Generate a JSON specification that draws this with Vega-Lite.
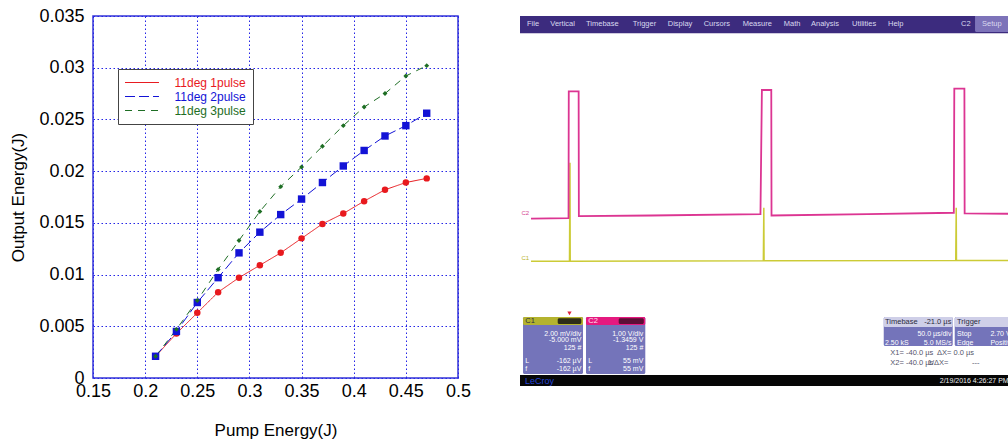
{
  "$schema": "https://vega.github.io/schema/vega-lite/v6.json",
  "padding": {"left": 9, "top": 6, "right": 0, "bottom": 0},
  "spacing": 48,
  "config": {
    "font": "Liberation Sans",
    "axis": {
      "labelFont": "Liberation Sans",
      "titleFont": "Liberation Sans",
      "domain": false,
      "ticks": false,
      "tickSize": 0,
      "grid": true,
      "gridColor": "#2424e6",
      "gridDash": [1.5, 2.5],
      "gridWidth": 1,
      "labelFontSize": 18,
      "labelColor": "#000000",
      "titleFontSize": 17,
      "titleFontWeight": "normal",
      "titleColor": "#000000"
    }
  },
  "datasets": {
    "energy": [
      {"pump": 0.21, "out": 0.0021, "series": "11deg 1pulse"},
      {"pump": 0.23, "out": 0.0043, "series": "11deg 1pulse"},
      {"pump": 0.25, "out": 0.0063, "series": "11deg 1pulse"},
      {"pump": 0.27, "out": 0.0083, "series": "11deg 1pulse"},
      {"pump": 0.29, "out": 0.0097, "series": "11deg 1pulse"},
      {"pump": 0.31, "out": 0.0109, "series": "11deg 1pulse"},
      {"pump": 0.33, "out": 0.0121, "series": "11deg 1pulse"},
      {"pump": 0.35, "out": 0.0135, "series": "11deg 1pulse"},
      {"pump": 0.37, "out": 0.0149, "series": "11deg 1pulse"},
      {"pump": 0.39, "out": 0.0159, "series": "11deg 1pulse"},
      {"pump": 0.41, "out": 0.0171, "series": "11deg 1pulse"},
      {"pump": 0.43, "out": 0.0182, "series": "11deg 1pulse"},
      {"pump": 0.45, "out": 0.0189, "series": "11deg 1pulse"},
      {"pump": 0.47, "out": 0.0193, "series": "11deg 1pulse"},
      {"pump": 0.21, "out": 0.0021, "series": "11deg 2pulse"},
      {"pump": 0.23, "out": 0.0045, "series": "11deg 2pulse"},
      {"pump": 0.25, "out": 0.0073, "series": "11deg 2pulse"},
      {"pump": 0.27, "out": 0.0097, "series": "11deg 2pulse"},
      {"pump": 0.29, "out": 0.0121, "series": "11deg 2pulse"},
      {"pump": 0.31, "out": 0.0141, "series": "11deg 2pulse"},
      {"pump": 0.33, "out": 0.0158, "series": "11deg 2pulse"},
      {"pump": 0.35, "out": 0.0173, "series": "11deg 2pulse"},
      {"pump": 0.37, "out": 0.0189, "series": "11deg 2pulse"},
      {"pump": 0.39, "out": 0.0205, "series": "11deg 2pulse"},
      {"pump": 0.41, "out": 0.0220, "series": "11deg 2pulse"},
      {"pump": 0.43, "out": 0.0234, "series": "11deg 2pulse"},
      {"pump": 0.45, "out": 0.0244, "series": "11deg 2pulse"},
      {"pump": 0.47, "out": 0.0256, "series": "11deg 2pulse"},
      {"pump": 0.21, "out": 0.0021, "series": "11deg 3pulse"},
      {"pump": 0.23, "out": 0.0047, "series": "11deg 3pulse"},
      {"pump": 0.25, "out": 0.0075, "series": "11deg 3pulse"},
      {"pump": 0.27, "out": 0.0105, "series": "11deg 3pulse"},
      {"pump": 0.29, "out": 0.0133, "series": "11deg 3pulse"},
      {"pump": 0.31, "out": 0.0161, "series": "11deg 3pulse"},
      {"pump": 0.33, "out": 0.0185, "series": "11deg 3pulse"},
      {"pump": 0.35, "out": 0.0204, "series": "11deg 3pulse"},
      {"pump": 0.37, "out": 0.0224, "series": "11deg 3pulse"},
      {"pump": 0.39, "out": 0.0244, "series": "11deg 3pulse"},
      {"pump": 0.41, "out": 0.0262, "series": "11deg 3pulse"},
      {"pump": 0.43, "out": 0.0275, "series": "11deg 3pulse"},
      {"pump": 0.45, "out": 0.0292, "series": "11deg 3pulse"},
      {"pump": 0.47, "out": 0.0302, "series": "11deg 3pulse"}
    ],
    "boxes": [
      {"x": -0.3, "x2": 10.1, "y": 8.123, "y2": 8.748, "part": "bar"},
      {"x": 9.231, "x2": 10.1, "y": 8.16, "y2": 8.72, "part": "setup"},
      {"x": -0.3, "x2": 10.1, "y": -1.897, "y2": -2.3, "part": "status"},
      {"x": -0.166, "x2": 1.081, "y": -0.196, "y2": -1.868, "part": "body"},
      {"x": -0.166, "x2": 1.081, "y": -0.196, "y2": -0.431, "part": "c1head"},
      {"x": 0.555, "x2": 1.046, "y": -0.23, "y2": -0.40, "part": "c1dark"},
      {"x": 1.143, "x2": 2.376, "y": -0.196, "y2": -1.868, "part": "body"},
      {"x": 1.143, "x2": 2.376, "y": -0.196, "y2": -0.431, "part": "c2head"},
      {"x": 1.823, "x2": 2.345, "y": -0.23, "y2": -0.40, "part": "c2dark"},
      {"x": 7.333, "x2": 8.767, "y": -0.196, "y2": -1.047, "part": "body"},
      {"x": 7.333, "x2": 8.767, "y": -0.196, "y2": -0.489, "part": "tbhead"},
      {"x": 8.809, "x2": 10.1, "y": -0.196, "y2": -1.047, "part": "body"},
      {"x": 8.809, "x2": 10.1, "y": -0.196, "y2": -0.489, "part": "tbhead"}
    ],
    "vgrid": [
      {"x": 0}, {"x": 1}, {"x": 2}, {"x": 3}, {"x": 4}, {"x": 5},
      {"x": 6}, {"x": 7}, {"x": 8}, {"x": 9}, {"x": 10}
    ],
    "hgrid": [
      {"y": 0}, {"y": 1}, {"y": 2}, {"y": 3}, {"y": 4},
      {"y": 5}, {"y": 6}, {"y": 7}, {"y": 8}
    ],
    "minorx": [
      {"x": 0.2}, {"x": 0.4}, {"x": 0.6}, {"x": 0.8}, {"x": 1}, {"x": 1.2}, {"x": 1.4}, {"x": 1.6}, {"x": 1.8}, {"x": 2},
      {"x": 2.2}, {"x": 2.4}, {"x": 2.6}, {"x": 2.8}, {"x": 3}, {"x": 3.2}, {"x": 3.4}, {"x": 3.6}, {"x": 3.8}, {"x": 4},
      {"x": 4.2}, {"x": 4.4}, {"x": 4.6}, {"x": 4.8}, {"x": 5}, {"x": 5.2}, {"x": 5.4}, {"x": 5.6}, {"x": 5.8}, {"x": 6},
      {"x": 6.2}, {"x": 6.4}, {"x": 6.6}, {"x": 6.8}, {"x": 7}, {"x": 7.2}, {"x": 7.4}, {"x": 7.6}, {"x": 7.8}, {"x": 8},
      {"x": 8.2}, {"x": 8.4}, {"x": 8.6}, {"x": 8.8}, {"x": 9}, {"x": 9.2}, {"x": 9.4}, {"x": 9.6}, {"x": 9.8}
    ],
    "minory": [
      {"y": 0.2}, {"y": 0.4}, {"y": 0.6}, {"y": 0.8}, {"y": 1}, {"y": 1.2}, {"y": 1.4}, {"y": 1.6}, {"y": 1.8}, {"y": 2},
      {"y": 2.2}, {"y": 2.4}, {"y": 2.6}, {"y": 2.8}, {"y": 3}, {"y": 3.2}, {"y": 3.4}, {"y": 3.6}, {"y": 3.8}, {"y": 4},
      {"y": 4.2}, {"y": 4.4}, {"y": 4.6}, {"y": 4.8}, {"y": 5}, {"y": 5.2}, {"y": 5.4}, {"y": 5.6}, {"y": 5.8}, {"y": 6},
      {"y": 6.2}, {"y": 6.4}, {"y": 6.6}, {"y": 6.8}, {"y": 7}, {"y": 7.2}, {"y": 7.4}, {"y": 7.6}, {"y": 7.8}
    ],
    "traces": [
      {"i": 0, "x": 0, "y": 2.69, "ch": "C2"},
      {"i": 1, "x": 0.78, "y": 2.70, "ch": "C2"},
      {"i": 2, "x": 0.785, "y": 6.42, "ch": "C2"},
      {"i": 3, "x": 0.99, "y": 6.42, "ch": "C2"},
      {"i": 4, "x": 0.995, "y": 2.76, "ch": "C2"},
      {"i": 5, "x": 2.5, "y": 2.78, "ch": "C2"},
      {"i": 6, "x": 4.77, "y": 2.82, "ch": "C2"},
      {"i": 7, "x": 4.80, "y": 6.46, "ch": "C2"},
      {"i": 8, "x": 4.995, "y": 6.46, "ch": "C2"},
      {"i": 9, "x": 5.0, "y": 2.78, "ch": "C2"},
      {"i": 10, "x": 7.0, "y": 2.82, "ch": "C2"},
      {"i": 11, "x": 8.79, "y": 2.86, "ch": "C2"},
      {"i": 12, "x": 8.80, "y": 6.50, "ch": "C2"},
      {"i": 13, "x": 9.01, "y": 6.50, "ch": "C2"},
      {"i": 14, "x": 9.015, "y": 2.84, "ch": "C2"},
      {"i": 15, "x": 9.958, "y": 2.83, "ch": "C2"},
      {"i": 0, "x": 0, "y": 1.44, "ch": "C1"},
      {"i": 1, "x": 0.80, "y": 1.44, "ch": "C1"},
      {"i": 2, "x": 0.81, "y": 4.33, "ch": "C1"},
      {"i": 3, "x": 0.815, "y": 1.44, "ch": "C1"},
      {"i": 4, "x": 4.83, "y": 1.45, "ch": "C1"},
      {"i": 5, "x": 4.84, "y": 3.01, "ch": "C1"},
      {"i": 6, "x": 4.845, "y": 1.45, "ch": "C1"},
      {"i": 7, "x": 8.83, "y": 1.46, "ch": "C1"},
      {"i": 8, "x": 8.84, "y": 3.01, "ch": "C1"},
      {"i": 9, "x": 8.845, "y": 1.46, "ch": "C1"},
      {"i": 10, "x": 9.958, "y": 1.46, "ch": "C1"}
    ],
    "labels": [
      {"x": -0.083, "y": 8.405, "t": "File", "k": "menu"},
      {"x": 0.401, "y": 8.405, "t": "Vertical", "k": "menu"},
      {"x": 1.143, "y": 8.405, "t": "Timebase", "k": "menu"},
      {"x": 2.114, "y": 8.405, "t": "Trigger", "k": "menu"},
      {"x": 2.842, "y": 8.405, "t": "Display", "k": "menu"},
      {"x": 3.590, "y": 8.405, "t": "Cursors", "k": "menu"},
      {"x": 4.401, "y": 8.405, "t": "Measure", "k": "menu"},
      {"x": 5.254, "y": 8.405, "t": "Math", "k": "menu"},
      {"x": 5.821, "y": 8.405, "t": "Analysis", "k": "menu"},
      {"x": 6.674, "y": 8.405, "t": "Utilities", "k": "menu"},
      {"x": 7.422, "y": 8.405, "t": "Help", "k": "menu"},
      {"x": 8.940, "y": 8.405, "t": "C2", "k": "menu"},
      {"x": 9.376, "y": 8.405, "t": "Setup", "k": "menu"},
      {"x": -0.12, "y": -0.314, "t": "C1", "k": "head"},
      {"x": 1.19, "y": -0.314, "t": "C2", "k": "c2h"},
      {"x": 7.36, "y": -0.343, "t": "Timebase", "k": "head"},
      {"x": 8.74, "y": -0.343, "t": "-21.0 µs", "k": "headR"},
      {"x": 8.857, "y": -0.343, "t": "Trigger", "k": "head"},
      {"x": 1.046, "y": -0.704, "t": "2.00 mV/div", "k": "boxtext"},
      {"x": 1.046, "y": -0.880, "t": "-5.000 mV", "k": "boxtext"},
      {"x": 1.046, "y": -1.114, "t": "125 #", "k": "boxtext"},
      {"x": 1.046, "y": -1.486, "t": "-162 µV", "k": "boxtext"},
      {"x": 1.046, "y": -1.730, "t": "-162 µV", "k": "boxtext"},
      {"x": 2.335, "y": -0.704, "t": "1.00 V/div", "k": "boxtext"},
      {"x": 2.335, "y": -0.880, "t": "-1.3459 V", "k": "boxtext"},
      {"x": 2.335, "y": -1.114, "t": "125 #", "k": "boxtext"},
      {"x": 2.335, "y": -1.486, "t": "55 mV", "k": "boxtext"},
      {"x": 2.335, "y": -1.730, "t": "55 mV", "k": "boxtext"},
      {"x": 8.74, "y": -0.686, "t": "50.0 µs/div", "k": "boxtext"},
      {"x": 8.74, "y": -0.95, "t": "5.0 MS/s", "k": "boxtext"},
      {"x": 9.93, "y": -2.059, "t": "2/19/2016 4:26:27 PM", "k": "date"},
      {"x": -0.12, "y": -1.486, "t": "L", "k": "boxside"},
      {"x": -0.12, "y": -1.730, "t": "f", "k": "boxside"},
      {"x": 1.19, "y": -1.486, "t": "L", "k": "boxside"},
      {"x": 1.19, "y": -1.730, "t": "f", "k": "boxside"},
      {"x": 7.36, "y": -0.95, "t": "2.50 kS", "k": "boxside"},
      {"x": 8.857, "y": -0.686, "t": "Stop", "k": "boxside"},
      {"x": 9.55, "y": -0.686, "t": "2.70 V", "k": "boxside"},
      {"x": 8.857, "y": -0.95, "t": "Edge", "k": "boxside"},
      {"x": 9.55, "y": -0.95, "t": "Positive", "k": "boxside"},
      {"x": 7.47, "y": -1.243, "t": "X1= -40.0 µs", "k": "cursor"},
      {"x": 8.44, "y": -1.243, "t": "ΔX= 0.0 µs", "k": "cursor"},
      {"x": 7.47, "y": -1.554, "t": "X2= -40.0 µs", "k": "cursor"},
      {"x": 8.25, "y": -1.554, "t": "1/ΔX=", "k": "cursor"},
      {"x": 9.17, "y": -1.554, "t": "---", "k": "cursor"},
      {"x": -0.125, "y": -2.059, "t": "LeCroy", "k": "brand"},
      {"x": -0.2, "y": 2.86, "t": "C2", "k": "ch2"},
      {"x": -0.2, "y": 1.53, "t": "C1", "k": "ch1"}
    ]
  },
  "hconcat": [
    {
      "width": 365,
      "height": 362,
      "view": {"stroke": "#3535d8", "strokeWidth": 1.5},
      "data": {"name": "energy"},
      "encoding": {
        "x": {
          "field": "pump",
          "type": "quantitative",
          "title": "Pump Energy(J)",
          "scale": {"domain": [0.15, 0.5], "nice": false, "zero": false},
          "axis": {
            "values": [0.15, 0.2, 0.25, 0.3, 0.35, 0.4, 0.45, 0.5],
            "format": "~g",
            "labelFlush": false,
            "labelOverlap": false,
            "labelPadding": 4,
            "titlePadding": 22
          }
        },
        "y": {
          "field": "out",
          "type": "quantitative",
          "title": "Output Energy(J)",
          "scale": {"domain": [0, 0.035], "nice": false},
          "axis": {
            "values": [0, 0.005, 0.01, 0.015, 0.02, 0.025, 0.03, 0.035],
            "format": "~g",
            "labelFlush": false,
            "labelOverlap": false,
            "labelPadding": 9,
            "titlePadding": 11
          }
        }
      },
      "layer": [
        {
          "mark": {"type": "line", "strokeWidth": 1, "clip": true},
          "encoding": {
            "stroke": {
              "field": "series",
              "type": "nominal",
              "scale": {"domain": ["11deg 1pulse", "11deg 2pulse", "11deg 3pulse"], "range": ["#e8191e", "#1313d6", "#1e6e24"]},
              "legend": {
                "title": null,
                "orient": "none",
                "legendX": 25,
                "legendY": 53,
                "padding": 7,
                "fillColor": "#ffffff",
                "strokeColor": "#444444",
                "symbolType": "M-2.83,0H2.83",
                "symbolSize": 144,
                "symbolStrokeWidth": 1,
                "symbolOffset": 10.5,
                "labelOffset": 26,
                "rowPadding": 1,
                "labelFontSize": 12,
                "labelFont": "Liberation Sans",
                "labelColor": {"expr": "datum.value == '11deg 1pulse' ? '#e8191e' : datum.value == '11deg 2pulse' ? '#1313d6' : '#1e6e24'"}
              }
            },
            "strokeDash": {
              "field": "series",
              "type": "nominal",
              "scale": {"domain": ["11deg 1pulse", "11deg 2pulse", "11deg 3pulse"], "range": [[1, 0], [10, 4], [7, 6]]},
              "legend": {
                "title": null,
                "orient": "none",
                "legendX": 25,
                "legendY": 53,
                "padding": 7,
                "fillColor": "#ffffff",
                "strokeColor": "#444444",
                "symbolType": "M-2.83,0H2.83",
                "symbolSize": 144,
                "symbolStrokeWidth": 1,
                "symbolOffset": 10.5,
                "labelOffset": 26,
                "rowPadding": 1,
                "labelFontSize": 12,
                "labelFont": "Liberation Sans",
                "labelColor": {"expr": "datum.value == '11deg 1pulse' ? '#e8191e' : datum.value == '11deg 2pulse' ? '#1313d6' : '#1e6e24'"}
              }
            }
          }
        },
        {
          "transform": [{"filter": "datum.series == '11deg 1pulse'"}],
          "mark": {"type": "point", "shape": "circle", "filled": true, "size": 42, "color": "#e8191e", "opacity": 1}
        },
        {
          "transform": [{"filter": "datum.series == '11deg 2pulse'"}],
          "mark": {"type": "point", "shape": "square", "filled": true, "size": 55, "color": "#1313d6", "opacity": 1}
        },
        {
          "transform": [{"filter": "datum.series == '11deg 3pulse'"}],
          "mark": {"type": "point", "shape": "diamond", "filled": true, "size": 24, "color": "#1e6e24", "opacity": 1}
        }
      ]
    },
    {
      "width": 490,
      "height": 370,
      "view": {"stroke": null},
      "encoding": {
        "x": {"field": "x", "type": "quantitative", "scale": {"domain": [-0.229, 9.958], "nice": false, "zero": false}, "axis": null},
        "y": {"field": "y", "type": "quantitative", "scale": {"domain": [-2.22, 8.63], "nice": false, "zero": false}, "axis": null}
      },
      "layer": [
        {
          "data": {"name": "vgrid"},
          "mark": {"type": "rule", "color": "#cfcfcf", "strokeWidth": 1, "clip": true},
          "encoding": {"y": {"datum": 0}, "y2": {"datum": 8}}
        },
        {
          "data": {"name": "hgrid"},
          "mark": {"type": "rule", "color": "#cfcfcf", "strokeWidth": 1, "clip": true},
          "encoding": {"x": {"datum": 0}, "x2": {"datum": 10}}
        },
        {
          "data": {"values": [{}]},
          "mark": {"type": "rule", "color": "#8e8e8e", "strokeWidth": 1, "clip": true},
          "encoding": {"x": {"datum": 5}, "y": {"datum": 0}, "y2": {"datum": 8}}
        },
        {
          "data": {"values": [{}]},
          "mark": {"type": "rule", "color": "#8e8e8e", "strokeWidth": 1, "clip": true},
          "encoding": {"y": {"datum": 4}, "x": {"datum": 0}, "x2": {"datum": 10}}
        },
        {
          "data": {"values": [{}]},
          "mark": {"type": "rule", "color": "#7a7a7a", "strokeWidth": 1.2, "clip": true},
          "encoding": {"x": {"datum": 0}, "y": {"datum": 0}, "y2": {"datum": 8}}
        },
        {
          "data": {"name": "minorx"},
          "mark": {"type": "tick", "orient": "vertical", "size": 6, "thickness": 1, "color": "#8e8e8e", "opacity": 1, "clip": true},
          "encoding": {"y": {"datum": 4}}
        },
        {
          "data": {"name": "minory"},
          "mark": {"type": "tick", "orient": "horizontal", "size": 6, "thickness": 1, "color": "#8e8e8e", "opacity": 1, "clip": true},
          "encoding": {"x": {"datum": 5}}
        },
        {
          "data": {"values": [{}]},
          "mark": {"type": "rule", "color": "#eaa6cc", "strokeWidth": 1.5, "strokeDash": [1.5, 4], "clip": true},
          "encoding": {"y": {"datum": 6.58}, "x": {"datum": 0}, "x2": {"datum": 10}}
        },
        {
          "data": {"name": "traces"},
          "transform": [{"filter": "datum.ch == 'C1'"}],
          "mark": {"type": "line", "color": "#cccb36", "strokeWidth": 1.5, "clip": true},
          "encoding": {"order": {"field": "i", "type": "quantitative"}}
        },
        {
          "data": {"name": "traces"},
          "transform": [{"filter": "datum.ch == 'C2'"}],
          "mark": {"type": "line", "color": "#dc3592", "strokeWidth": 1.8, "clip": true},
          "encoding": {"order": {"field": "i", "type": "quantitative"}}
        },
        {
          "data": {"name": "boxes"},
          "mark": {"type": "rect", "cornerRadius": 1.5, "clip": true},
          "encoding": {
            "x2": {"field": "x2"},
            "y2": {"field": "y2"},
            "fill": {
              "field": "part",
              "type": "nominal",
              "scale": {
                "domain": ["bar", "setup", "status", "body", "c1head", "c1dark", "c2head", "c2dark", "tbhead",
                           "menu", "head", "c2h", "headR", "boxtext", "boxside", "cursor", "date", "brand", "ch1", "ch2"],
                "range": ["#3c2b7e", "#7d73b9", "#060606", "#7474ba", "#b4b32e", "#2e2d16", "#e5197f", "#5c0f36", "#cfcfe8",
                          "#d9d9ef", "#2b2b40", "#ffe0f0", "#2b2b40", "#ffffff", "#ffffff", "#55556a", "#eeeeee", "#2443d6", "#b8b42a", "#d63f92"]
              },
              "legend": null
            }
          }
        },
        {
          "data": {"values": [{"x": 0.8, "y": -0.09}]},
          "mark": {"type": "point", "shape": "triangle-down", "filled": true, "size": 18, "color": "#e0203a", "opacity": 1, "clip": true}
        },
        {
          "data": {"name": "labels"},
          "transform": [{"filter": "indexof(['menu', 'head', 'c2h', 'cursor'], datum.k) >= 0"}],
          "mark": {"type": "text", "align": "left", "baseline": "middle", "fontSize": 7.5, "clip": true},
          "encoding": {"text": {"field": "t"}, "fill": {"field": "k", "type": "nominal", "legend": null}}
        },
        {
          "data": {"name": "labels"},
          "transform": [{"filter": "datum.k == 'boxside'"}],
          "mark": {"type": "text", "align": "left", "baseline": "middle", "fontSize": 7, "clip": true},
          "encoding": {"text": {"field": "t"}, "fill": {"field": "k", "type": "nominal", "legend": null}}
        },
        {
          "data": {"name": "labels"},
          "transform": [{"filter": "datum.k == 'boxtext' || datum.k == 'date'"}],
          "mark": {"type": "text", "align": "right", "baseline": "middle", "fontSize": 7, "clip": true},
          "encoding": {"text": {"field": "t"}, "fill": {"field": "k", "type": "nominal", "legend": null}}
        },
        {
          "data": {"name": "labels"},
          "transform": [{"filter": "datum.k == 'headR'"}],
          "mark": {"type": "text", "align": "right", "baseline": "middle", "fontSize": 7.5, "clip": true},
          "encoding": {"text": {"field": "t"}, "fill": {"field": "k", "type": "nominal", "legend": null}}
        },
        {
          "data": {"name": "labels"},
          "transform": [{"filter": "datum.k == 'brand'"}],
          "mark": {"type": "text", "align": "left", "baseline": "middle", "fontSize": 9, "clip": true},
          "encoding": {"text": {"field": "t"}, "fill": {"field": "k", "type": "nominal", "legend": null}}
        },
        {
          "data": {"name": "labels"},
          "transform": [{"filter": "datum.k == 'ch1' || datum.k == 'ch2'"}],
          "mark": {"type": "text", "align": "left", "baseline": "middle", "fontSize": 6, "clip": true},
          "encoding": {"text": {"field": "t"}, "fill": {"field": "k", "type": "nominal", "legend": null}}
        }
      ]
    }
  ]
}
